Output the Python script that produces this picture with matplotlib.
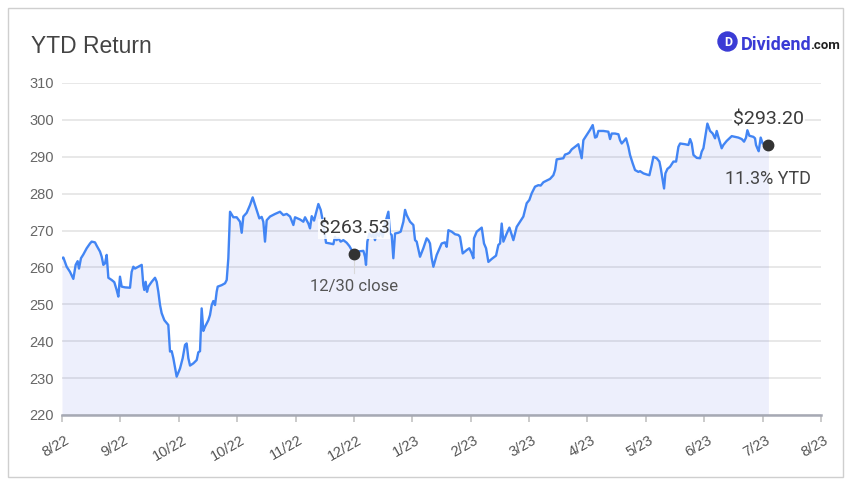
import matplotlib
matplotlib.use('Agg')
import matplotlib.pyplot as plt
import matplotlib.transforms as mtransforms
from matplotlib.patches import Rectangle, Circle

# position on the x axis, counted in months from the first tick (8/22)
months = [
    0.000, 0.023, 0.080, 0.137, 0.194, 0.234, 0.268, 0.291, 0.325, 0.365,
    0.423, 0.480, 0.508, 0.565, 0.594, 0.651, 0.680, 0.708, 0.737, 0.765,
    0.794, 0.851, 0.896, 0.936, 0.965, 0.993, 1.022, 1.079, 1.165, 1.193,
    1.222, 1.250, 1.307, 1.365, 1.393, 1.410, 1.433, 1.456, 1.479, 1.536,
    1.593, 1.622, 1.650, 1.679, 1.707, 1.753, 1.821, 1.850, 1.879, 1.907,
    1.964, 2.021, 2.067, 2.107, 2.135, 2.164, 2.193, 2.250, 2.307, 2.335,
    2.364, 2.392, 2.421, 2.449, 2.507, 2.535, 2.564, 2.592, 2.621, 2.649,
    2.667, 2.735, 2.792, 2.821, 2.849, 2.878, 2.935, 2.992, 3.049, 3.078,
    3.106, 3.163, 3.220, 3.266, 3.289, 3.334, 3.380, 3.420, 3.448, 3.477,
    3.506, 3.563, 3.649, 3.734, 3.791, 3.849, 3.906, 3.963, 3.991, 4.077,
    4.134, 4.163, 4.220, 4.248, 4.277, 4.317, 4.351, 4.391, 4.431, 4.476,
    4.522, 4.591, 4.648, 4.676, 4.705, 4.733, 4.773, 4.819, 4.876, 4.922,
    4.962, 5.000, 5.059, 5.116, 5.162, 5.190, 5.207, 5.230, 5.264, 5.304,
    5.333, 5.361, 5.390, 5.430, 5.459, 5.493, 5.533, 5.590, 5.618, 5.647,
    5.675, 5.704, 5.761, 5.801, 5.847, 5.876, 5.904, 5.961, 6.018, 6.047,
    6.075, 6.132, 6.189, 6.246, 6.275, 6.303, 6.332, 6.361, 6.418, 6.503,
    6.560, 6.589, 6.618, 6.675, 6.732, 6.789, 6.817, 6.863, 6.931, 6.977,
    7.017, 7.046, 7.057, 7.103, 7.189, 7.228, 7.263, 7.303, 7.360, 7.434,
    7.474, 7.503, 7.531, 7.560, 7.617, 7.663, 7.686, 7.731, 7.788, 7.845,
    7.902, 7.931, 7.959, 8.005, 8.045, 8.102, 8.159, 8.199, 8.245, 8.359,
    8.416, 8.445, 8.473, 8.587, 8.616, 8.656, 8.690, 8.730, 8.787, 8.844,
    8.901, 8.930, 8.987, 9.044, 9.090, 9.130, 9.158, 9.187, 9.273, 9.358,
    9.387, 9.415, 9.472, 9.530, 9.558, 9.587, 9.615, 9.661, 9.701, 9.729,
    9.775, 9.815, 9.872, 9.901, 9.958, 10.015, 10.061, 10.101, 10.129, 10.186,
    10.232, 10.255, 10.289, 10.312, 10.335, 10.369, 10.415, 10.472, 10.518, 10.558,
    10.587, 10.672, 10.729, 10.758, 10.786, 10.815, 10.872, 10.929, 10.957, 10.986,
    11.014, 11.054, 11.100, 11.145, 11.185, 11.214, 11.242, 11.299, 11.328, 11.385,
    11.471, 11.528, 11.585, 11.642, 11.682, 11.716, 11.739, 11.773, 11.842, 11.870,
    11.887, 11.910, 11.933, 11.967, 12.001, 12.041, 12.099,
]
prices = [
    262.5, 262.7, 260.2, 258.8, 256.9, 260.7, 261.7, 259.7, 262.5, 263.5,
    265.2, 266.5, 267.0, 266.8, 265.9, 264.3, 262.9, 260.7, 261.1, 263.4,
    257.2, 256.6, 256.0, 253.9, 252.1, 257.5, 254.8, 254.6, 254.5, 258.8,
    260.2, 259.7, 260.2, 260.7, 255.2, 253.9, 256.1, 253.4, 254.8, 256.1,
    257.2, 256.1, 253.4, 249.8, 247.6, 245.7, 244.4, 237.2, 237.3, 235.4,
    230.4, 232.6, 235.4, 239.0, 239.4, 235.4, 233.4, 234.0, 234.9, 237.0,
    237.3, 248.9, 242.8, 243.9, 245.7, 247.1, 249.8, 250.9, 249.8, 253.4,
    254.8, 255.2, 255.7, 256.6, 262.5, 275.1, 273.6, 273.6, 272.4, 269.4,
    273.8, 274.8, 276.9, 279.0, 277.8, 275.6, 273.3, 273.7, 272.4, 267.0,
    272.8, 273.8, 274.5, 275.1, 274.2, 274.5, 273.8, 271.5, 273.6, 273.0,
    272.4, 273.6, 271.9, 270.6, 273.9, 272.7, 274.8, 277.2, 275.6, 271.9,
    266.7, 266.5, 266.3, 268.3, 267.4, 267.9, 267.0, 267.4, 266.7, 265.8,
    264.7, 263.53, 264.3, 264.4, 264.5, 262.9, 260.7, 267.0, 269.2, 268.3,
    269.2, 267.4, 269.4, 268.5, 270.0, 268.3, 271.9, 275.1, 269.2, 268.8,
    262.5, 269.2, 269.4, 269.7, 272.4, 275.6, 274.2, 272.4, 271.5, 267.4,
    267.0, 262.9, 265.2, 267.9, 267.4, 266.5, 262.5, 260.2, 263.4, 266.5,
    266.8, 265.6, 270.1, 269.7, 269.0, 268.8, 268.3, 263.8, 264.7, 265.2,
    263.8, 262.5, 267.9, 269.7, 270.8, 266.5, 265.2, 261.5, 262.3, 263.2,
    266.1, 266.5, 271.9, 267.0, 269.2, 270.8, 269.7, 267.4, 271.0, 272.4,
    273.8, 275.6, 277.4, 278.3, 280.1, 281.9, 282.3, 282.2, 283.1, 284.0,
    285.0, 286.4, 289.3, 289.6, 290.6, 290.8, 291.1, 292.0, 292.7, 293.4,
    289.6, 294.5, 295.9, 297.3, 298.6, 295.2, 295.4, 297.0, 297.0, 296.8,
    294.8, 296.3, 296.3, 296.1, 294.5, 293.6, 294.1, 295.0, 292.7, 290.5,
    288.2, 286.4, 285.9, 286.1, 285.5, 285.2, 285.0, 287.8, 290.0, 289.6,
    288.7, 286.9, 283.7, 281.4, 285.5, 286.7, 287.3, 288.7, 288.7, 292.7,
    293.6, 293.4, 293.2, 294.8, 293.6, 290.5, 289.7, 289.6, 291.4, 292.3,
    295.0, 299.0, 297.0, 296.3, 295.0, 297.0, 295.4, 292.3, 293.2, 294.3,
    295.6, 295.4, 295.2, 294.8, 294.1, 295.2, 297.2, 295.7, 295.4, 295.0,
    293.2, 292.3, 291.5, 295.2, 293.6, 293.6, 293.20,
]

tick_labels = ['8/22', '9/22', '10/22', '10/22', '11/22', '12/22', '1/23',
               '2/23', '3/23', '4/23', '5/23', '6/23', '7/23', '8/23']
y_ticks = [220, 230, 240, 250, 260, 270, 280, 290, 300, 310]

close_month = 5.0
close_price = 263.53
last_month = months[-1]
last_price = prices[-1]
ytd = (last_price / close_price - 1) * 100

W, H = 851, 483
fig = plt.figure(figsize=(W / 100, H / 100), dpi=100)

# pixel-space layer for the frame, title and logo
deco = fig.add_axes([0, 0, 1, 1])
deco.set_xlim(0, W)
deco.set_ylim(H, 0)
deco.axis('off')
deco.add_patch(Rectangle((7.5, 7.5), 835, 469, fill=False, ec='#cfcfcf', lw=1))
deco.text(31, 53, 'YTD Return', fontsize=16.5, color='#444444',
          family='Liberation Sans', va='baseline', ha='left')
deco.add_patch(Circle((727.5, 41.5), 9.5, color='#3a3bd5'))
deco.text(727.8, 42, 'D', fontsize=9, fontweight='bold', color='white',
          family='Roboto', ha='center', va='center')
brand = deco.text(741, 50, 'Dividend', fontsize=13, fontweight='bold',
                  color='#3a3bd5', family='Roboto', va='baseline', ha='left')
deco.annotate('.com', xy=(1, 0), xycoords=brand, xytext=(-1.2, 1.3),
              textcoords='offset points', fontsize=9.5, fontweight='bold',
              color='#222222', family='Roboto', va='bottom', ha='left')

ax = fig.add_axes([62 / W, 1 - 415 / H, 759 / W, 332 / H])
ax.patch.set_alpha(0)
ax.set_xlim(0, 13)
ax.set_ylim(220, 310)

ax.fill_between(months, prices, 220, color=(0.25, 0.32, 0.87), alpha=0.09, lw=0)
ax.plot(months, prices, color='#4285f4', lw=1.7, solid_joinstyle='round')

# 12/30 close marker
ax.plot([close_month, close_month], [close_price, 258.6], color='#d9d9d9', lw=0.8, zorder=3)
ax.plot(close_month, close_price, 'o', color='#333333', ms=7.5, zorder=6)
ax.annotate(f'${close_price:.2f}', (close_month, close_price), xytext=(0, 15),
            textcoords='offset points', ha='center', va='baseline',
            fontsize=14, color='#3a3a3a', family='Roboto', zorder=5,
            bbox=dict(boxstyle='square,pad=0.05', fc='white', ec='none', alpha=0.85))
ax.annotate('12/30 close', (close_month, close_price), xytext=(0, -26),
            textcoords='offset points', ha='center', va='baseline',
            fontsize=12, color='#555555', family='Roboto')

# latest value marker
ax.plot(last_month, last_price, 'o', color='#333333', ms=7.5, zorder=6, clip_on=False)
ax.annotate(f'${last_price:.2f}', (last_month, last_price), xytext=(0, 15),
            textcoords='offset points', ha='center', va='baseline',
            fontsize=14, color='#3a3a3a', family='Roboto', zorder=5,
            bbox=dict(boxstyle='square,pad=0.05', fc='white', ec='none', alpha=0.85))
ax.annotate(f'{ytd:.1f}% YTD', (last_month, last_price), xytext=(0, -28),
            textcoords='offset points', ha='center', va='baseline',
            fontsize=13, color='#444444', family='Roboto')

ax.set_yticks(y_ticks)
ax.yaxis.grid(True, color='#e2e2e2', lw=1.1)
ax.set_axisbelow(True)
for s in ['top', 'right', 'left']:
    ax.spines[s].set_visible(False)
ax.spines['bottom'].set_color('#a6a9b4')
ax.spines['bottom'].set_linewidth(1.8)
ax.tick_params(axis='y', length=0, pad=6, labelsize=10.5, labelcolor='#666666')
ax.set_xticks(range(len(tick_labels)))
ax.set_xticklabels(tick_labels, rotation=30, ha='right')
ax.tick_params(axis='x', length=5, width=1.1, color='#bdbdbd', pad=8,
               labelsize=10.5, labelcolor='#555555')
shift = mtransforms.ScaledTranslation(0.10, 0, fig.dpi_scale_trans)
for lbl in ax.get_xticklabels() + ax.get_yticklabels():
    lbl.set_family('Liberation Sans')
for lbl in ax.get_xticklabels():
    lbl.set_transform(lbl.get_transform() + shift)

fig.savefig('out.png', dpi=100)
